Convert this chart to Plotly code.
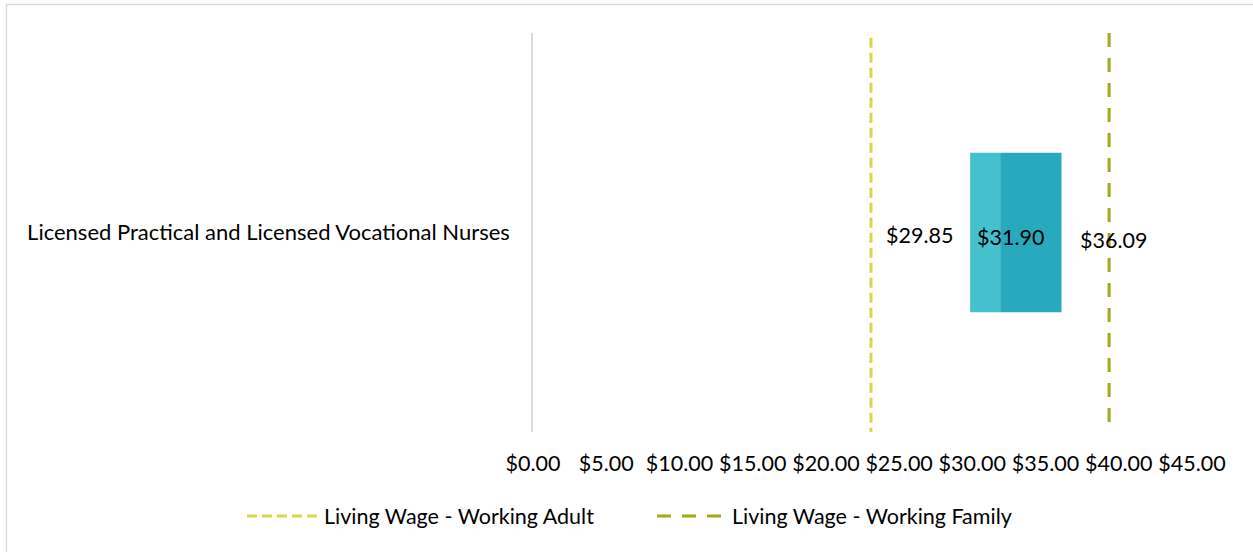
import plotly.graph_objects as go

categories = ["Licensed Practical and Licensed Vocational Nurses"]
wage_low = [29.85]
wage_median = [31.90]
wage_high = [36.09]
living_wage_adult = 23.08
living_wage_family = 39.34
tick_values = [0, 5, 10, 15, 20, 25, 30, 35, 40, 45]
tick_labels = ["$%.2f" % v for v in tick_values]
legend_names = ["Living Wage - Working Adult", "Living Wage - Working Family"]

FONT = "Lato"
FS = 21.5
W, H = 1253, 552
L, R, T, B = 533, 61, 33, 120
pw, ph = W - L - R, H - T - B

ADULT_COLOR, FAMILY_COLOR = "#D4D84C", "#A5A818"
ADULT_DASH, FAMILY_DASH = "10px,5px", "14px,11px"


def px(x):
    return (x - L) / pw


def py(y):
    return (T + ph - y) / ph


fig = go.Figure()

fig.add_trace(go.Bar(
    y=categories, x=[m - l for m, l in zip(wage_median, wage_low)], base=wage_low,
    orientation="h", marker=dict(color="#44C1CC", line=dict(width=0)),
    width=0.4, showlegend=False, hoverinfo="skip"))
fig.add_trace(go.Bar(
    y=categories, x=[h - m for h, m in zip(wage_high, wage_median)], base=wage_median,
    orientation="h", marker=dict(color="#29A9BD", line=dict(width=0)),
    width=0.4, showlegend=False, hoverinfo="skip"))

fig.add_trace(go.Scatter(
    x=[living_wage_adult, living_wage_adult], y=[0.988, 0], yaxis="y2", mode="lines",
    line=dict(color=ADULT_COLOR, width=3, dash=ADULT_DASH),
    name=legend_names[0], showlegend=False, hoverinfo="skip"))
fig.add_trace(go.Scatter(
    x=[living_wage_family, living_wage_family], y=[1, 0], yaxis="y2", mode="lines",
    line=dict(color=FAMILY_COLOR, width=3, dash=FAMILY_DASH),
    name=legend_names[1], showlegend=False, hoverinfo="skip"))

tf = dict(family=FONT, size=FS, color="#000")
ann = []
for c, lo, me, hi in zip(categories, wage_low, wage_median, wage_high):
    ann.append(dict(x=lo, y=c, text="$%.2f" % lo, showarrow=False, xanchor="right",
                    xshift=-15, yshift=-2, font=tf))
    ann.append(dict(x=lo, y=c, text="$%.2f" % me, showarrow=False, xanchor="left",
                    xshift=5, yshift=-4, font=tf))
    ann.append(dict(x=hi, y=c, text="$%.2f" % hi, showarrow=False, xanchor="left",
                    xshift=16, yshift=-7, font=tf))

# manual legend (sample line + text)
legend_items = [(legend_names[0], ADULT_COLOR, ADULT_DASH, 247, 320),
                (legend_names[1], FAMILY_COLOR, FAMILY_DASH, 657, 728)]
shapes = []
for name, col, dash, x0, x1 in legend_items:
    shapes.append(dict(type="line", xref="paper", yref="paper",
                       x0=px(x0), x1=px(x1), y0=py(516), y1=py(516),
                       line=dict(color=col, width=3, dash=dash)))
    ann.append(dict(xref="paper", yref="paper", x=px(x1 + 2), y=py(516),
                    text=name, showarrow=False, xanchor="left", yanchor="middle", font=tf))

shapes.append(dict(type="rect", xref="paper", yref="paper",
                   x0=px(6.5), x1=px(1270), y0=py(570), y1=py(4.5),
                   line=dict(color="#D9D9D9", width=1.3),
                   fillcolor="rgba(0,0,0,0)", layer="below"))

fig.update_layout(
    width=W, height=H,
    margin=dict(l=L, r=R, t=T, b=B),
    paper_bgcolor="white", plot_bgcolor="white",
    barmode="overlay",
    font=tf,
    showlegend=False,
    hovermode=False,
    xaxis=dict(range=[0, 45], tickvals=tick_values, ticktext=tick_labels,
               showgrid=False, zeroline=False, showline=False, ticks="",
               ticklabelstandoff=16, tickfont=tf),
    yaxis=dict(showgrid=False, zeroline=False, showline=True, linecolor="#D9D9D9",
               linewidth=1.5, ticks="", ticklabelstandoff=17,
               tickfont=dict(family=FONT, size=22, color="#000")),
    yaxis2=dict(overlaying="y", range=[0, 1], visible=False),
    annotations=ann, shapes=shapes,
)

fig.write_html("out.html", config={"displayModeBar": False},
               post_script="document.body.style.margin='0';document.body.style.overflow='hidden';")
